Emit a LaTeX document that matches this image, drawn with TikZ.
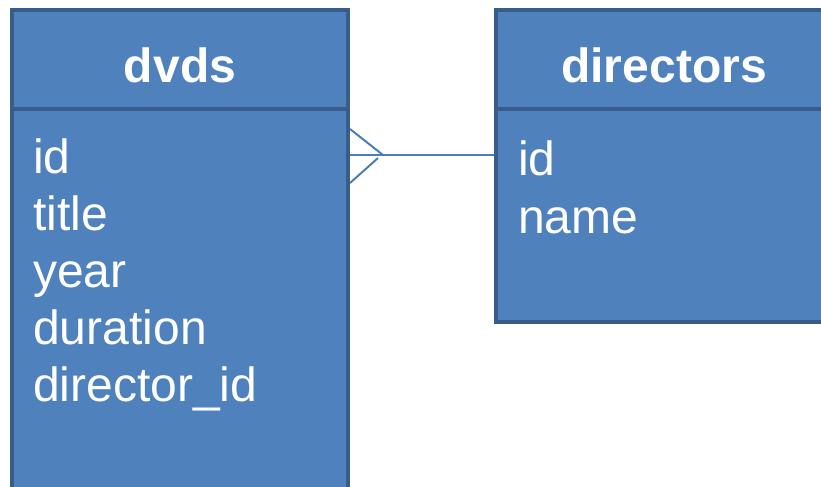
\documentclass[tikz,border=0pt]{standalone}
\usepackage{fontspec}
\setmainfont{Liberation Sans}
\definecolor{tfill}{HTML}{4F81BD}
\definecolor{tborder}{HTML}{385D8A}
\definecolor{tline}{HTML}{4A7EBB}
\tikzset{
  tblbox/.style={draw=tborder, fill=tfill, line width=3pt, rectangle, inner sep=0pt},
  hdrtext/.style={text=white, font=\fontsize{36}{40}\selectfont\bfseries, anchor=base, inner sep=0pt},
  fieldtext/.style={text=white, font=\fontsize{36}{40}\selectfont, anchor=base west, inner sep=0pt},
  conn/.style={draw=tline, line width=1.5pt}
}
\begin{document}
\begin{tikzpicture}[x=0.75pt,y=-0.75pt]
\useasboundingbox (0,0) rectangle (821,486);
\clip (0,0) rectangle (821,486);
% dvds table
\node[tblbox, minimum width=252pt, minimum height=293.25pt] (db) at (180,304.5) {};
\node[tblbox, minimum width=252pt, minimum height=74.25pt] (dh) at (180,59.5) {};
\node[hdrtext] (dht) at (180,82) {dvds};
\node[fieldtext] (d1) at (33,173) {id};
\node[fieldtext] (d2) at (33,230) {title};
\node[fieldtext] (d3) at (33,287) {year};
\node[fieldtext] (d4) at (33,344) {duration};
\node[fieldtext] (d5) at (33,401) {director\_id};
% directors table
\node[tblbox, minimum width=250.5pt, minimum height=159.75pt] (rb) at (663,215.5) {};
\node[tblbox, minimum width=250.5pt, minimum height=74.25pt] (rh) at (663,59.5) {};
\node[hdrtext] (rht) at (664,82) {directors};
\node[fieldtext] (r1) at (518,175) {id};
\node[fieldtext] (r2) at (518,233) {name};
% relationship
\coordinate (lvl) at (0,155);
\coordinate (foot) at (383,155);
\draw[conn] (db.east |- lvl) -- (rb.west |- lvl);
\draw[conn] (db.east |- 0,129) -- (foot);
\draw[conn] (db.east |- 0,183) -- (378,158);
\end{tikzpicture}
\end{document}
